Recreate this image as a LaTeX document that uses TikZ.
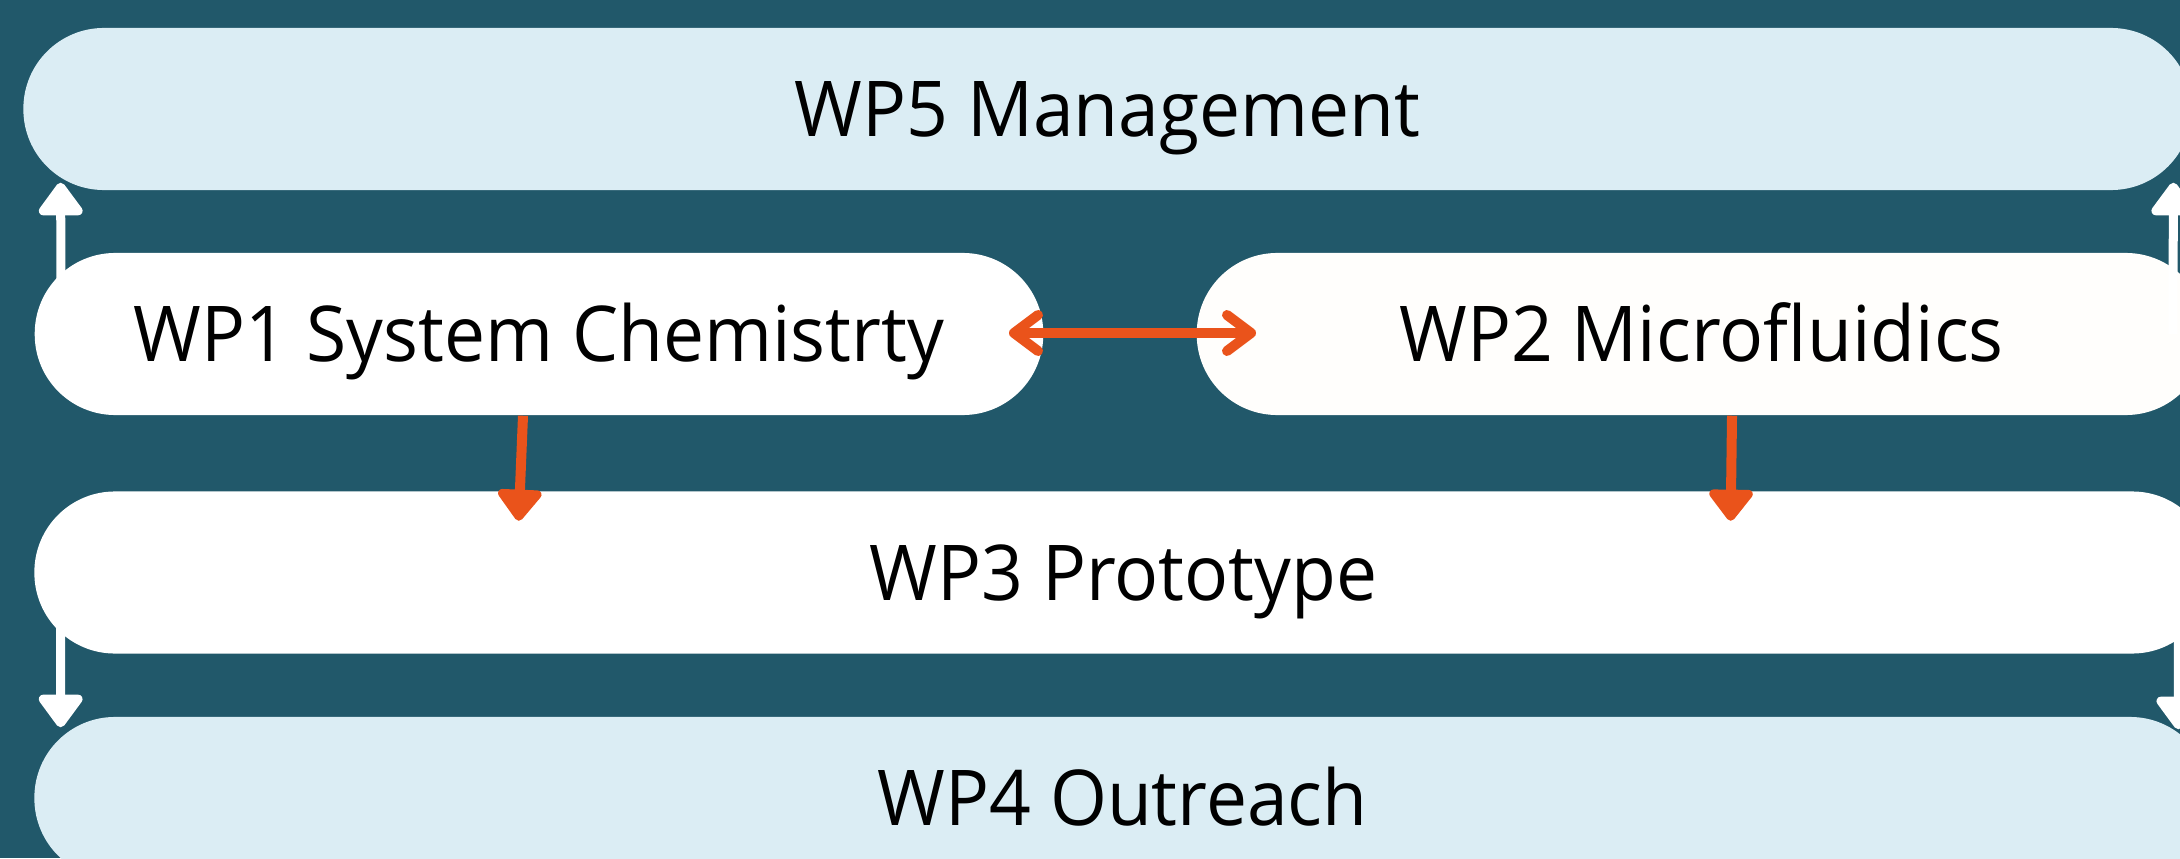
\documentclass[tikz,border=0pt]{standalone}
\usepackage{fontspec}
\usetikzlibrary{arrows.meta,calc}
\newfontfamily\wpfont{Open Sans}[FakeStretch=0.95]

\definecolor{teal}{HTML}{21586A}
\definecolor{paleblue}{HTML}{DBEDF4}
\definecolor{offwhite}{HTML}{FFFEFC}
\definecolor{flame}{HTML}{EA531B}

\tikzset{
  wpbox/.style={rectangle, rounded corners=0.805cm, minimum height=1.62cm,
    inner sep=0pt, text height=0.55cm, text depth=0cm, text=black,
    font=\wpfont\fontsize{21.9pt}{26pt}\selectfont},
  palebox/.style={wpbox, fill=paleblue},
  whitebox/.style={wpbox, fill=white},
  creambox/.style={wpbox, fill=offwhite},
  whitearrow/.style={draw=white, line width=0.09cm,
    -{Triangle[length=0.36cm, width=0.5cm, round]}},
  flamearrow/.style={draw=flame, line width=0.10cm,
    -{Triangle[length=0.34cm, width=0.5cm, round]}},
  flamelink/.style={draw=flame, line width=0.10cm, line cap=round,
    {Straight Barb[length=0.24cm, width=0.36cm, round]}-{Straight Barb[length=0.24cm, width=0.36cm, round]}}
}

\begin{document}
\begin{tikzpicture}[x=0.01cm, y=-0.01cm]
  \useasboundingbox (0,0) rectangle (2180,858);
  \fill[teal] (0,0) rectangle (2180,858);
  \begin{scope}
    \clip (0,0) rectangle (2180,858);

    % work package bars
    \node[palebox,  minimum width=21.67cm] (wp5) at (1107.5,109) {WP5 Management};
    \node[whitebox, minimum width=10.08cm] (wp1) at (539,334)    {WP1 System Chemistrty};
    \node[creambox, minimum width=10.09cm] (wp2) at (1701.5,334) {WP2 Microfluidics};
    \node[whitebox, minimum width=21.77cm] (wp3) at (1123.5,572.5) {WP3 Prototype};
    \node[palebox,  minimum width=21.75cm] (wp4) at (1122.5,798) {WP4 Outreach};

    % links to management and outreach
    \draw[whitearrow] ($(wp1.west)+(27,0)$) -- ($(wp5.south west)+(38,-8)$);
    \draw[whitearrow] ($(wp2.east)+(-34,0)$) -- ($(wp5.south east)+(-19,-8)$);
    \draw[whitearrow] ($(wp3.west)+(27,0)$) -- ($(wp4.north west)+(27,11)$);
    \draw[whitearrow] ($(wp3.east)+(-35,0)$) -- ($(wp4.north east)+(-33,13)$);

    % flows into the prototype
    \draw[flamearrow] ($(wp1.south)+(-16,0)$) -- ($(wp3.north west)+(485,30)$);
    \draw[flamearrow] ($(wp2.south)+(30.5,0)$) -- ($(wp3.north west)+(1697,30)$);

    % exchange between chemistry and microfluidics
    \draw[flamelink] ($(wp1.east)+(-35,-1)$) -- ($(wp2.west)+(60,-1)$);
  \end{scope}
\end{tikzpicture}
\end{document}
